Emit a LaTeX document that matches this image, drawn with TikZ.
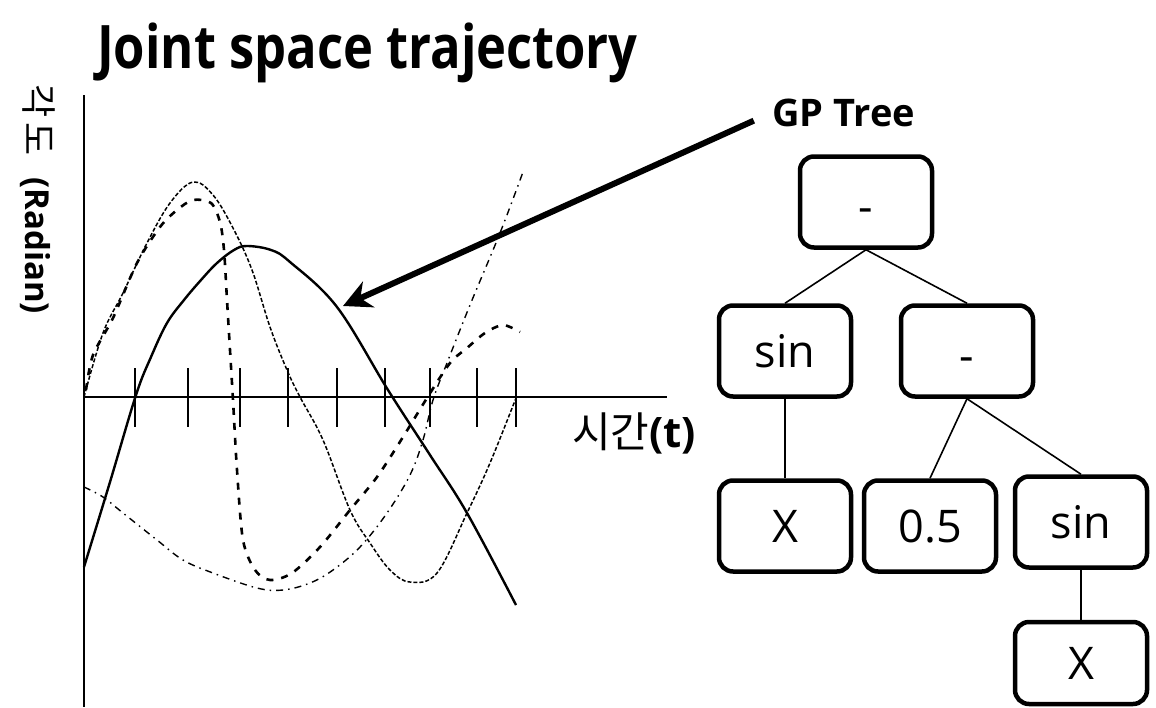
\documentclass[tikz,border=0pt]{standalone}
\usepackage{fontspec}
\setmainfont{Open Sans}
\newfontfamily\kr{Noto Sans CJK KR}
\usetikzlibrary{arrows.meta}
\begin{document}
\begin{tikzpicture}[x=1pt,y=-1pt,
  box/.style={draw, line width=4.5pt, rounded corners=14pt, minimum width=132pt, minimum height=91pt, inner sep=0pt, text height=32pt, text depth=0pt, font=\fontsize{45}{45}\selectfont},
  edge/.style={line width=1.6pt},
  axisline/.style={line width=2.2pt},
  curvesolid/.style={line width=2.4pt},
  curvedotted/.style={line width=1.5pt, dash pattern=on 4pt off 2pt},
  curvedashed/.style={line width=2.6pt, dash pattern=on 7pt off 8pt},
  curvedashdot/.style={line width=1.4pt, dash pattern=on 7pt off 5pt on 1.5pt off 5pt},
  bigarrow/.style={line width=6pt, -{Stealth[length=28pt,width=28pt,inset=9pt]}}
]
\useasboundingbox (0,0) rectangle (1156,707);
\fill[white] (0,0) rectangle (1156,707);

% title
\node[anchor=base west, inner sep=0pt, font=\fontsize{60}{60}\selectfont\bfseries] (title) at (97,68) {\scalebox{0.845}[1]{Joint space trajectory}};

% axes
\coordinate (ytop) at (84,95);
\coordinate (ybot) at (84,707);
\coordinate (o) at (84,397);
\coordinate (xend) at (667,397);
\draw[axisline] (ytop) -- (ybot);
\draw[axisline] (o) -- (xend);
\foreach \x in {135,187.7,240,287.7,336.7,385,430,476.7,516}
  \draw[axisline] (\x,368) -- (\x,427);

% axis labels
\node[rotate=-90, anchor=west, inner sep=0pt] (ylab) at (38,84) {{\kr\fontsize{36}{36}\selectfont 각\hspace{5pt}도}\hspace{22pt}{\fontsize{33}{33}\selectfont\bfseries (Radian)}};
\node[anchor=west, inner sep=0pt, font=\fontsize{42}{42}\selectfont] (xlab) at (572,433) {{\kr 시간}\textbf{(t)}};

% curves
\draw[curvesolid] plot[smooth, tension=0.6] coordinates {(84,567) (110,482) (136,395) (151,357) (167,323) (184,300) (201,280) (217,263) (234,250) (247,246) (271,250) (290,262) (337,307) (388,390) (430,455) (467,513) (516,605)};
\draw[curvedotted] plot[smooth, tension=0.6] coordinates {(84,397) (103,333) (123,293) (147,243) (170,203) (193,182) (213,195) (233,228) (252,270) (270,327) (287,370) (300,397) (323,440) (350,510) (370,543) (390,570) (410,582) (437,573) (467,513) (490,463) (516,398)};
\draw[curvedashed] plot[smooth, tension=0.5] coordinates {(86,390) (93,355) (113,318) (137,263) (160,227) (177,210) (193,200) (211,203) (220,222) (224,250) (227,300) (230,350) (233,400) (237,470) (243,540) (255,570) (270,580) (292,573) (320,547) (350,510) (377,477) (403,437) (427,398) (450,363) (467,348) (485,333) (503,325) (520,332)};
\draw[curvedashdot] plot[smooth, tension=0.6] coordinates {(84,487) (103,497) (123,513) (157,540) (183,560) (213,573) (257,588) (283,590) (310,583) (333,570) (360,547) (387,513) (410,475) (423,440) (433,400) (447,363) (470,305) (500,233) (523,172)};

% GP tree label and arrow
\node[anchor=base west, inner sep=0pt, font=\fontsize{38}{38}\selectfont\bfseries] (gp) at (772,126) {GP Tree};
\coordinate (tip) at (343,306);
\draw[bigarrow, shorten <=20pt] (gp.west) -- (tip);

% tree
\node[box] (root) at (866,202) {\raisebox{-4pt}{-}};
\node[box] (sinL) at (785,351) {sin};
\node[box] (minR) at (967,351) {\raisebox{-4pt}{-}};
\node[box] (xL) at (785,526) {X};
\node[box] (half) at (930,526) {0.5};
\node[box] (sinR) at (1081,522) {sin};
\node[box, minimum height=82pt] (xB) at (1081,663) {X};

\draw[edge] (root.south) -- (sinL.north);
\draw[edge] (root.south) -- (minR.north);
\draw[edge] (sinL.south) -- (xL.north);
\draw[edge] (minR.south) -- (half.north);
\draw[edge] (minR.south) -- (sinR.north);
\draw[edge] (sinR.south) -- (xB.north);
\end{tikzpicture}
\end{document}
